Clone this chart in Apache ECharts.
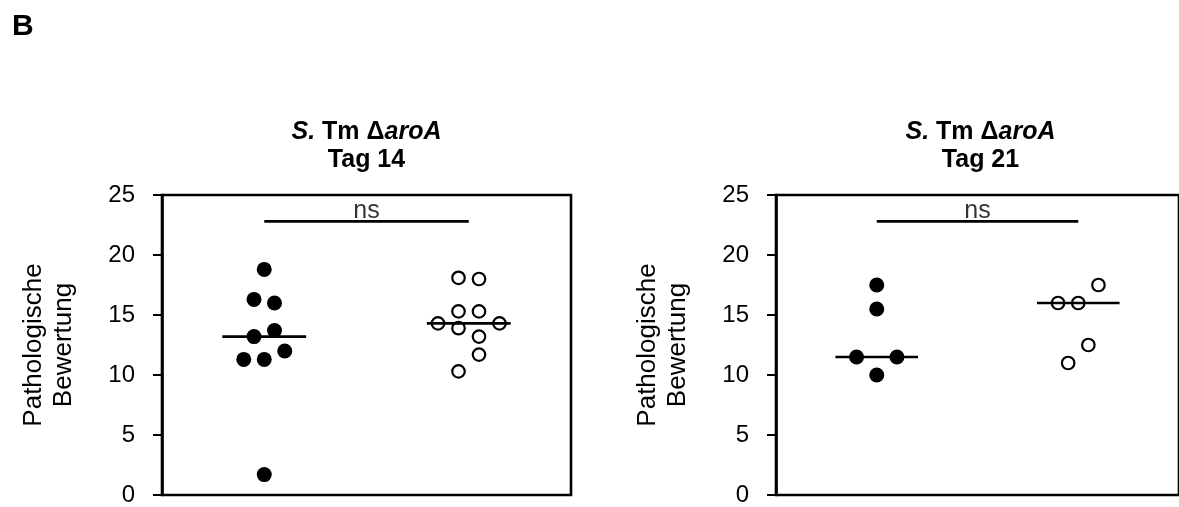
<!DOCTYPE html>
<html><head><meta charset="utf-8">
<script src="https://cdn.jsdelivr.net/npm/echarts@6/dist/echarts.min.js"></script>
<style>html,body{margin:0;padding:0;background:#fff}#c{width:1179px;height:507px}</style>
</head><body><div id="c"></div>
<script>
// ---------------- data ----------------
const panelDays = ['Tag 14', 'Tag 21'];
const groupCenters = [1, 3];            // category positions on a 0..4 x-scale
const yTicks = [0, 5, 10, 15, 20, 25];
const tag14Filled = [18.8, 16.3, 16.0, 13.2, 13.7, 11.3, 11.3, 12.0, 1.7];
const tag14Open   = [18.1, 18.0, 15.3, 15.3, 14.3, 13.9, 13.2, 14.3, 10.3, 11.7];
const tag21Filled = [17.5, 15.5, 11.5, 10.0, 11.5];
const tag21Open   = [16.0, 16.0, 17.5, 11.0, 12.5];
const sigLabels = ['ns', 'ns'];
const yAxisName = 'Pathologische\nBewertung';
const panelLetter = 'B';

// ---------------- layout ----------------
const FONT = "'Liberation Sans', Arial, sans-serif";
const GRID_TOP = 195, GRID_H = 304, GRID_W = 409;
const GRID_LEFTS = [162, 776];
const X_MIN = 0, X_MAX = 4;
const BRACKET_Y = 22.8;
const MEDIAN_HALF = 0.41;
const ROW_SPAN = 1.6;      // value range that shares one horizontal row
const ROW_STEP_PX = 20.5;  // horizontal spacing of points within a row
const pxPerX = GRID_W / (X_MAX - X_MIN);

function median(a) {
  const s = a.slice().sort((x, y) => x - y), n = s.length;
  return n % 2 ? s[(n - 1) / 2] : (s[n / 2 - 1] + s[n / 2]) / 2;
}

// row-based dot layout: close values share a row and are spread symmetrically
function dotLayout(values, center) {
  const order = values.map((v, i) => i).sort((a, b) => values[a] - values[b] || a - b);
  const rows = []; let cur = null, base = null;
  order.forEach(i => {
    if (cur && values[i] - base < ROW_SPAN) cur.push(i);
    else { cur = [i]; base = values[i]; rows.push(cur); }
  });
  const off = new Array(values.length).fill(0);
  rows.forEach(r => {
    const sorted = r.slice().sort((a, b) => a - b); // keep data order left to right
    const n = sorted.length;
    sorted.forEach((i, j) => { off[i] = (j - (n - 1) / 2) * ROW_STEP_PX; });
  });
  return values.map((v, i) => [center + off[i] / pxPerX, v]);
}

const panels = [
  { day: panelDays[0], filled: tag14Filled, open: tag14Open, sig: sigLabels[0] },
  { day: panelDays[1], filled: tag21Filled, open: tag21Open, sig: sigLabels[1] }
];

const grid = [], xAxis = [], yAxis = [], series = [], title = [];
panels.forEach((p, k) => {
  grid.push({ left: GRID_LEFTS[k], top: GRID_TOP, width: GRID_W, height: GRID_H,
    show: true, borderColor: '#000', borderWidth: 2.6, backgroundColor: 'transparent' });
  xAxis.push({ type: 'value', gridIndex: k, min: X_MIN, max: X_MAX,
    axisLine: { show: false }, axisTick: { show: false }, axisLabel: { show: false }, splitLine: { show: false } });
  yAxis.push({ type: 'value', gridIndex: k, min: yTicks[0], max: yTicks[yTicks.length - 1], interval: 5,
    name: yAxisName, nameLocation: 'middle', nameGap: 83,
    nameTextStyle: { fontFamily: FONT, fontSize: 26, color: '#000', lineHeight: 30 },
    axisLine: { show: true, lineStyle: { color: '#000', width: 2.6 } },
    axisTick: { show: true, length: 9, inside: false, lineStyle: { color: '#000', width: 2 } },
    axisLabel: { fontFamily: FONT, fontSize: 24, color: '#000', margin: 27 },
    splitLine: { show: false } });
  const cx = GRID_LEFTS[k] + GRID_W / 2;
  title.push({
    text: '{i|S.}{b| Tm Δ}{i|aroA}\n{b|' + p.day + '}',
    left: cx, top: 118, textAlign: 'center', padding: 0,
    textStyle: { rich: {
      i: { fontFamily: FONT, fontSize: 25, fontWeight: 'bold', fontStyle: 'italic', color: '#000', lineHeight: 28 },
      b: { fontFamily: FONT, fontSize: 25, fontWeight: 'bold', color: '#000', lineHeight: 28 }
    } }
  });
  series.push({ type: 'scatter', xAxisIndex: k, yAxisIndex: k, symbol: 'circle', symbolSize: 15,
    itemStyle: { color: '#000', opacity: 1 }, data: dotLayout(p.filled, groupCenters[0]), z: 3 });
  series.push({ type: 'scatter', xAxisIndex: k, yAxisIndex: k, symbol: 'circle', symbolSize: 12.5,
    itemStyle: { color: '#fff', borderColor: '#000', borderWidth: 2.2, opacity: 1 },
    data: dotLayout(p.open, groupCenters[1]), z: 3 });
  [p.filled, p.open].forEach((vals, g) => {
    const m = median(vals);
    series.push({ type: 'line', xAxisIndex: k, yAxisIndex: k, symbol: 'none', silent: true, z: 4,
      lineStyle: { color: '#000', width: 2.6 },
      data: [[groupCenters[g] - MEDIAN_HALF, m], [groupCenters[g] + MEDIAN_HALF, m]] });
  });
  series.push({ type: 'line', xAxisIndex: k, yAxisIndex: k, symbol: 'none', silent: true, z: 4,
    lineStyle: { color: '#000', width: 2.6 },
    data: [[groupCenters[0], BRACKET_Y], [groupCenters[1], BRACKET_Y]] });
  series.push({ type: 'scatter', xAxisIndex: k, yAxisIndex: k, symbolSize: 0, silent: true,
    data: [[(groupCenters[0] + groupCenters[1]) / 2, BRACKET_Y]],
    label: { show: true, position: 'top', distance: -2, formatter: p.sig,
      fontFamily: FONT, fontSize: 25, color: '#000' } });
});
title.push({ text: panelLetter, left: 12, top: 12, padding: 0,
  textStyle: { fontFamily: FONT, fontSize: 30, fontWeight: 'bold', color: '#000' } });

const chart = echarts.init(document.getElementById('c'), null, { renderer: 'canvas' });
chart.setOption({ backgroundColor: '#fff', animation: false, title, grid, xAxis, yAxis, series });
</script>
</body></html>
